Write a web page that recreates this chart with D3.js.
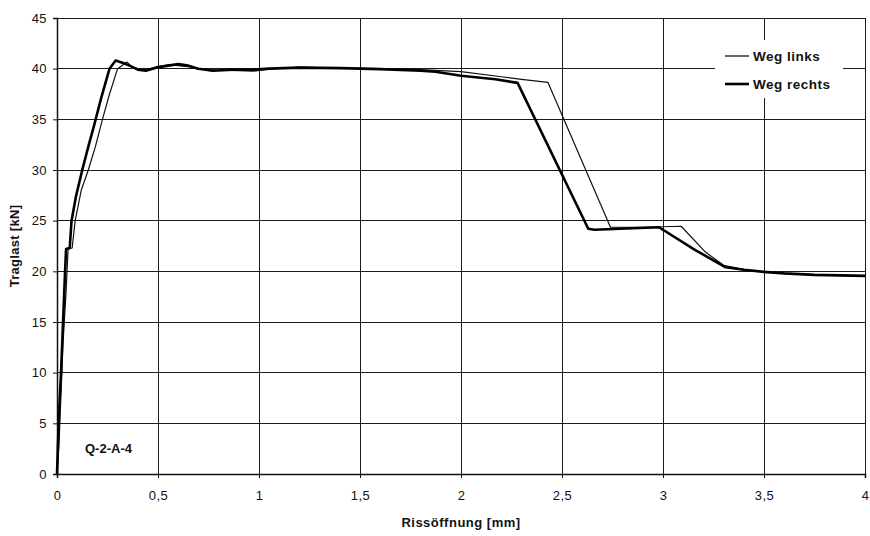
<!DOCTYPE html>
<html>
<head>
<meta charset="utf-8">
<script src="https://cdn.jsdelivr.net/npm/d3@7"></script>
<style>
  body { margin: 0; background: #fff; }
  svg { display: block; font-family: "Liberation Sans", Arial, sans-serif; }
</style>
</head>
<body>
<svg id="chart" width="870" height="536"></svg>
<script>
// ---- Data ----
const xTicks = [0, 0.5, 1, 1.5, 2, 2.5, 3, 3.5, 4];
const yTicks = [0, 5, 10, 15, 20, 25, 30, 35, 40, 45];

// Weg links (thin line): [Rissöffnung mm, Traglast kN]
const wegLinks = [
  [0,0],[0.01,3],[0.02,8],[0.03,13],[0.045,18],[0.055,22.2],[0.075,22.3],
  [0.09,25],[0.12,28],[0.155,30],[0.19,32.3],[0.225,35],[0.26,37.5],[0.30,40],
  [0.347,40.65],[0.37,40.2],[0.40,40.0],[0.44,39.9],[0.5,40.2],[0.56,40.4],
  [0.6,40.3],[0.65,40.2],[0.7,39.95],[0.8,39.85],[0.9,39.8],[0.97,39.75],
  [1.05,39.95],[1.2,40.15],[1.4,40.05],[1.6,40.0],[1.8,39.9],[2.0,39.7],
  [2.2,39.2],[2.3,38.95],[2.43,38.65],[2.74,24.35],
  [2.9,24.35],[3.09,24.45],[3.21,21.9],[3.3,20.6],[3.4,20.2],[3.5,19.95],
  [3.6,19.8],[3.75,19.65],[4.0,19.55]
];

// Weg rechts (thick line)
const wegRechts = [
  [0,0],[0.005,3],[0.01,6],[0.02,10],[0.03,15],[0.04,20],[0.045,22.2],[0.063,22.3],
  [0.072,25],[0.095,27.5],[0.125,30],[0.155,32.3],[0.185,34.5],[0.22,37.2],[0.26,40],
  [0.29,40.8],[0.335,40.5],[0.37,40.2],[0.4,39.9],[0.44,39.8],[0.49,40.1],
  [0.55,40.3],[0.6,40.45],[0.65,40.3],[0.7,40.0],[0.77,39.8],[0.87,39.9],
  [0.97,39.9],[1.05,40.0],[1.2,40.1],[1.4,40.05],[1.6,39.95],[1.8,39.8],
  [1.874,39.7],[2.0,39.3],[2.17,38.95],[2.28,38.6],
  [2.63,24.2],[2.66,24.1],[2.98,24.35],[3.16,22.1],[3.31,20.4],[3.4,20.15],
  [3.5,19.95],[3.6,19.8],[3.75,19.65],[4.0,19.55]
];

const seriesNames = ["Weg links", "Weg rechts"];
const xTitle = "Rissöffnung [mm]";
const yTitle = "Traglast [kN]";
const specimen = "Q-2-A-4";

// ---- Layout ----
const svg = d3.select("#chart");
const mL = 57, mR = 865, mT = 18, mB = 474;

const x = d3.scaleLinear().domain([0, 4]).range([mL, mR]);
const y = d3.scaleLinear().domain([0, 45]).range([mB, mT]);

const fmt = d => String(d).replace(".", ",");

// Grid
const grid = svg.append("g").attr("stroke", "#1a1a1a").attr("stroke-width", 1).attr("shape-rendering", "crispEdges");
grid.selectAll("line.v").data(xTicks).join("line").attr("class", "v")
  .attr("x1", d => x(d)).attr("x2", d => x(d))
  .attr("y1", mT).attr("y2", mB);
grid.selectAll("line.h").data(yTicks).join("line").attr("class", "h")
  .attr("x1", mL).attr("x2", mR)
  .attr("y1", d => y(d)).attr("y2", d => y(d));

// Axes
const xAxis = d3.axisBottom(x).tickValues(xTicks).tickFormat(fmt).tickSize(4).tickPadding(13);
const yAxis = d3.axisLeft(y).tickValues(yTicks).tickFormat(fmt).tickSize(4).tickPadding(6);

const gx = svg.append("g").attr("transform", `translate(0,${mB})`).call(xAxis);
const gy = svg.append("g").attr("transform", `translate(${mL},0)`).call(yAxis);
[gx, gy].forEach(g => {
  g.select(".domain").attr("stroke", "#111").attr("stroke-width", 1.5);
  g.selectAll(".tick line").attr("stroke", "#111");
  g.selectAll("text").attr("font-size", 13).attr("fill", "#111")
    .attr("letter-spacing", 0.4)
    .attr("font-family", "'Liberation Sans', Arial, sans-serif");
});

// Axis titles
svg.append("text").attr("x", 461).attr("y", 527)
  .attr("text-anchor", "middle").attr("font-size", 13).attr("font-weight", "bold")
  .attr("letter-spacing", 0.5).attr("fill", "#111").text(xTitle);
svg.append("text")
  .attr("transform", `translate(19,${(mT + mB) / 2}) rotate(-90)`)
  .attr("text-anchor", "middle").attr("font-size", 13).attr("font-weight", "bold")
  .attr("letter-spacing", 0.3).attr("fill", "#111").text(yTitle);

// Lines
const line = d3.line().x(d => x(d[0])).y(d => y(d[1]));
svg.append("path").datum(wegLinks).attr("d", line)
  .attr("fill", "none").attr("stroke", "#111").attr("stroke-width", 1.2)
  .attr("stroke-linejoin", "round");
svg.append("path").datum(wegRechts).attr("d", line)
  .attr("fill", "none").attr("stroke", "#000").attr("stroke-width", 2.6)
  .attr("stroke-linejoin", "round");

// Specimen label
svg.append("text").attr("x", 85).attr("y", 453)
  .attr("font-size", 13).attr("font-weight", "bold").attr("fill", "#111").text(specimen);

// Legend
const lg = svg.append("g");
lg.append("rect").attr("x", 715).attr("y", 40).attr("width", 128).attr("height", 58).attr("fill", "#fff");
const widths = [1.2, 2.6];
seriesNames.forEach((name, i) => {
  const yy = 56 + i * 28;
  lg.append("line").attr("x1", 725).attr("x2", 749).attr("y1", yy).attr("y2", yy)
    .attr("stroke", "#000").attr("stroke-width", widths[i]);
  lg.append("text").attr("x", 753).attr("y", yy + 5)
    .attr("font-size", 13.5).attr("font-weight", "bold").attr("letter-spacing", 0.5)
    .attr("fill", "#111").text(name);
});
</script>
</body>
</html>
